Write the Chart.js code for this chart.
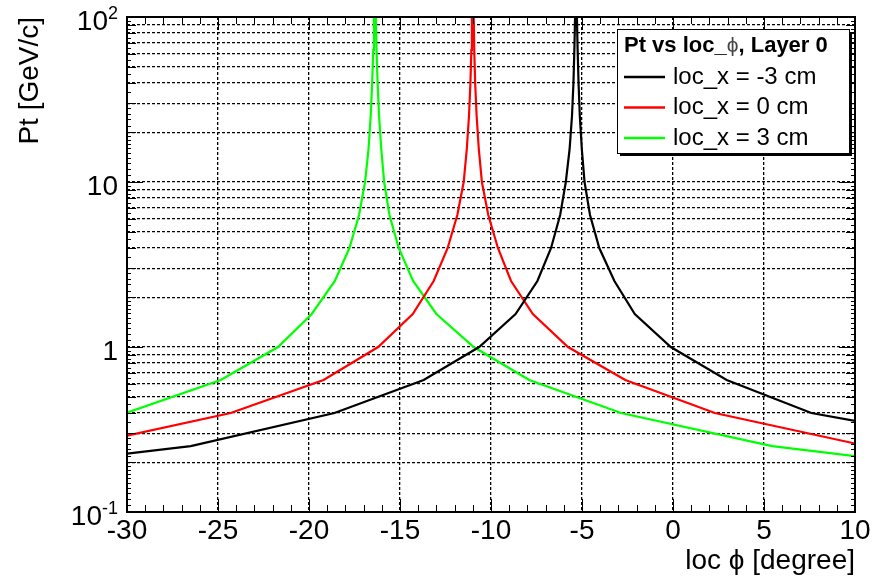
<!DOCTYPE html>
<html><head><meta charset="utf-8">
<script src="https://cdn.jsdelivr.net/npm/chart.js@4/dist/chart.umd.min.js"></script>
<style>html,body{margin:0;padding:0;background:#fff;}</style>
</head><body>
<canvas id="c" width="882" height="580"></canvas>
<script>
// ---- data ----
const seriesLabels = ['loc_x = -3 cm', 'loc_x = 0 cm', 'loc_x = 3 cm'];
const legendTitleParts = ['Pt vs loc_', 'ϕ', ', Layer 0'];
const xTitle = 'loc ϕ [degree]';
const yTitle = 'Pt [GeV/c]';
const xTickValues = [-30, -25, -20, -15, -10, -5, 0, 5, 10];
const yDecadeValues = [0.1, 1, 10, 100];
const yDecadeBase = ['10', '1', '10', '10'];
const yDecadeExp = ['-1', '', '', '2'];

const blackPhi = [-30, -26.5, -18.6, -13.7, -10.65, -8.65, -7.45, -6.7, -6.2, -5.89, -5.68, -5.55, -5.47, -5.42, -5.38,
                  -5.28, -5.24, -5.19, -5.12, -5.01, -4.86, -4.56, -4.05, -3.22, -2.1, -0.12, 2.95, 7.6, 10];
const blackPt  = [0.226, 0.251, 0.398, 0.631, 1.0, 1.585, 2.512, 3.981, 6.31, 10, 15.85, 25.12, 39.81, 63.1, 100,
                  100, 63.1, 39.81, 25.12, 15.85, 10, 6.31, 3.981, 2.512, 1.585, 1.0, 0.631, 0.398, 0.357];
const redPhi = [-30, -24.3, -19.2, -16.2, -14.3, -13.15, -12.38, -11.85, -11.5, -11.33, -11.21, -11.13, -11.08, -11.05,
                -10.95, -10.92, -10.87, -10.79, -10.67, -10.5, -10.15, -9.62, -8.9, -7.7, -5.77, -2.62, 2.3, 10];
const redPt  = [0.29, 0.398, 0.631, 1.0, 1.585, 2.512, 3.981, 6.31, 10, 15.85, 25.12, 39.81, 63.1, 100,
                100, 63.1, 39.81, 25.12, 15.85, 10, 6.31, 3.981, 2.512, 1.585, 1.0, 0.631, 0.398, 0.26];
const greenPhi = [-30, -24.85, -21.7, -19.85, -18.58, -17.78, -17.25, -16.92, -16.73, -16.61, -16.53, -16.47, -16.43,
                  -16.33, -16.29, -16.23, -16.15, -16.03, -15.87, -15.58, -15.07, -14.28, -13.0, -10.95, -7.9, -2.85, 5.45, 10];
const greenPt  = [0.40, 0.631, 1.0, 1.585, 2.512, 3.981, 6.31, 10, 15.85, 25.12, 39.81, 63.1, 100,
                  100, 63.1, 39.81, 25.12, 15.85, 10, 6.31, 3.981, 2.512, 1.585, 1.0, 0.631, 0.398, 0.251, 0.218];

// ---- styles ----
const FONT = "'Liberation Sans', Arial, Helvetica, sans-serif";
const colors = ['#000000', '#ff0000', '#00ff00'];

function pts(xs, ys) { return xs.map((v, i) => ({ x: v, y: ys[i] })); }

// y grid values: every 1..9 x decade
const yGridValues = [];
for (let d = 0.1; d < 50; d *= 10) {
  for (let m = 1; m <= 9; m++) yGridValues.push(+(m * d).toPrecision(3));
}
yGridValues.push(100);

const rootDecor = {
  id: 'rootDecor',
  afterDatasetsDraw(chart) {
    const { ctx, chartArea: a, scales: { x, y } } = chart;
    ctx.save();
    ctx.setLineDash([]);
    ctx.strokeStyle = '#000';
    ctx.lineWidth = 1;
    const seg = (x1, y1, x2, y2) => { ctx.beginPath(); ctx.moveTo(x1, y1); ctx.lineTo(x2, y2); ctx.stroke(); };
    // x ticks (bottom and top, inside)
    for (let v = -30; v <= 10; v++) {
      const px = Math.round(x.getPixelForValue(v)) + 0.5;
      const len = (v % 5 === 0) ? 13 : 7;
      seg(px, a.bottom, px, a.bottom - len);
      seg(px, a.top, px, a.top + len);
    }
    // y ticks (left and right, inside)
    const tiny = [1.1,1.2,1.3,1.4,1.5,1.6,1.7,1.8,1.9,2.2,2.4,2.6,2.8,3.5,4.5,5.5,6.5,7.5,8.5,9.5];
    for (let d = 0.1; d < 50; d *= 10) {
      for (let m = 1; m <= 9; m++) {
        const py = Math.round(y.getPixelForValue(m * d)) + 0.5;
        const len = m === 1 ? 16 : 9;
        seg(a.left, py, a.left + len, py);
        seg(a.right, py, a.right - len, py);
      }
      tiny.forEach(t => {
        const py = Math.round(y.getPixelForValue(t * d)) + 0.5;
        seg(a.left, py, a.left + 4, py);
        seg(a.right, py, a.right - 4, py);
      });
    }
    // frame
    ctx.lineWidth = 2;
    ctx.strokeRect(a.left, a.top, a.right - a.left, a.bottom - a.top);

    // y labels with superscripts
    ctx.fillStyle = '#000';
    ctx.textBaseline = 'alphabetic';
    yDecadeValues.forEach((v, i) => {
      const py = y.getPixelForValue(v);
      const right = a.left - 9;
      const base = py + 13;
      let expW = 0;
      if (yDecadeExp[i]) {
        ctx.font = '18px ' + FONT;
        expW = ctx.measureText(yDecadeExp[i]).width;
        ctx.textAlign = 'right';
        ctx.fillText(yDecadeExp[i], right, base - 11);
      }
      ctx.font = '28px ' + FONT;
      ctx.textAlign = 'right';
      ctx.fillText(yDecadeBase[i], right - expW, base);
    });

    // legend
    const bw = 232, bh = 124;
    const bx = a.right - 238, by = a.top + 12;
    ctx.fillStyle = '#000';
    ctx.fillRect(bx + 3, by + 3, bw, bh);
    ctx.fillStyle = '#fff';
    ctx.fillRect(bx, by, bw, bh);
    ctx.lineWidth = 1;
    ctx.strokeStyle = '#000';
    ctx.strokeRect(bx + 0.5, by + 0.5, bw, bh);
    // title
    ctx.textAlign = 'left';
    ctx.textBaseline = 'middle';
    let tx = bx + 7;
    const ty = by + 17;
    ctx.fillStyle = '#000';
    ctx.font = 'bold 22px ' + FONT;
    ctx.fillText(legendTitleParts[0], tx, ty);
    tx += ctx.measureText(legendTitleParts[0]).width;
    ctx.font = '21px ' + FONT;
    ctx.fillStyle = '#444';
    ctx.fillText(legendTitleParts[1], tx, ty);
    tx += ctx.measureText(legendTitleParts[1]).width;
    ctx.font = 'bold 22px ' + FONT;
    ctx.fillStyle = '#000';
    ctx.fillText(legendTitleParts[2], tx, ty);
    // entries
    chart.data.datasets.forEach((ds, i) => {
      const ry = by + 48 + i * 30.5;
      ctx.strokeStyle = ds.borderColor;
      ctx.lineWidth = 2.5;
      seg(bx + 7, ry, bx + 48, ry);
      ctx.fillStyle = '#000';
      ctx.font = '24px ' + FONT;
      ctx.fillText(ds.label, bx + 56, ry);
    });
    ctx.restore();
  }
};

new Chart(document.getElementById('c').getContext('2d'), {
  type: 'line',
  data: {
    datasets: [
      { label: seriesLabels[0], data: pts(blackPhi, blackPt), borderColor: colors[0] },
      { label: seriesLabels[1], data: pts(redPhi, redPt), borderColor: colors[1] },
      { label: seriesLabels[2], data: pts(greenPhi, greenPt), borderColor: colors[2] }
    ]
  },
  options: {
    responsive: false,
    animation: false,
    devicePixelRatio: 1,
    layout: { padding: { left: 0, right: 27, top: 17, bottom: 0 } },
    plugins: { legend: { display: false }, tooltip: { enabled: false } },
    elements: { point: { radius: 0 }, line: { tension: 0, borderWidth: 2.2, fill: false } },
    scales: {
      x: {
        type: 'linear', min: -30, max: 10,
        afterBuildTicks: s => { s.ticks = xTickValues.map(v => ({ value: v })); },
        ticks: { font: { family: FONT, size: 28 }, color: '#000', padding: 2, maxRotation: 0, autoSkip: false },
        grid: { color: '#000', lineWidth: 1.3, drawTicks: false },
        border: { display: false, dash: [3, 2] },
        title: { display: true, text: xTitle, align: 'end', color: '#000', font: { family: FONT, size: 28 }, padding: { top: 0, bottom: 2 } },
        afterFit: s => { s.height = 68; }
      },
      y: {
        type: 'logarithmic', min: 0.1, max: 100,
        afterBuildTicks: s => { s.ticks = yGridValues.map(v => ({ value: v })); },
        ticks: { display: false },
        grid: { color: '#000', lineWidth: 1.3, drawTicks: false },
        border: { display: false, dash: [3, 2] },
        title: { display: true, text: yTitle, align: 'end', color: '#000', font: { family: FONT, size: 28 }, padding: { top: 13, bottom: 0 } },
        afterFit: s => { s.width = 127; }
      }
    }
  },
  plugins: [rootDecor]
});
</script>
</body></html>
